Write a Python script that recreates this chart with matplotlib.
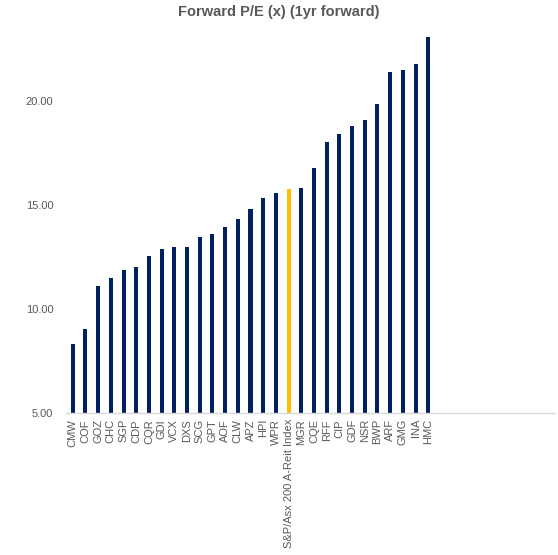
import matplotlib
matplotlib.use("Agg")
import matplotlib.pyplot as plt

plt.rcParams["font.family"] = ["Liberation Sans", "DejaVu Sans"]

TITLE = "Forward P/E (x) (1yr forward)"
tickers = ["CMW", "COF", "GOZ", "CHC", "SGP", "CDP", "CQR", "GDI", "VCX", "DXS",
           "SCG", "GPT", "AOF", "CLW", "APZ", "HPI", "WPR", "S&P/Asx 200 A-Reit Index",
           "MGR", "CQE", "RFF", "CIP", "GDF", "NSR", "BWP", "ARF", "GMG", "INA", "HMC"]
pe = [8.34, 9.06, 11.10, 11.50, 11.90, 12.05, 12.58, 12.90, 12.99, 13.00,
      13.49, 13.60, 13.95, 14.32, 14.84, 15.35, 15.59, 15.78,
      15.83, 16.79, 18.02, 18.40, 18.79, 19.09, 19.86, 21.38, 21.48, 21.78, 23.09]
highlight = "S&P/Asx 200 A-Reit Index"
y_ticks = [5, 10, 15, 20]

NAVY = "#002060"
GOLD = "#FFC000"
GREY = "#595959"

fig = plt.figure(figsize=(5.58, 5.55), dpi=100)
ax = fig.add_axes([0.119, 0.255, 0.876, 0.68])

colors = [GOLD if t == highlight else NAVY for t in tickers]
x = list(range(len(tickers)))
ax.bar(x, [v - 5 for v in pe], bottom=5, width=0.32, color=colors)

ax.set_xlim(-0.5, 38.0)
ax.set_ylim(5, 23.12)
ax.set_yticks(y_ticks)
ax.set_yticklabels([f"{v:.2f}" for v in y_ticks], color=GREY, fontsize=8)
ax.set_xticks(x)
ax.set_xticklabels(tickers, rotation=90, color=GREY, fontsize=8)
ax.tick_params(axis="y", length=0, pad=9.4)
ax.tick_params(axis="x", length=0, pad=4)

for s in ["top", "right", "left"]:
    ax.spines[s].set_visible(False)
ax.spines["bottom"].set_color("#d9d9d9")
ax.spines["bottom"].set_linewidth(1.0)

fig.text(0.5, 1 - 12 / 555, TITLE, ha="center", va="center",
         fontsize=10.5, fontweight="bold", color=GREY)

fig.savefig("out.png", dpi=100)
